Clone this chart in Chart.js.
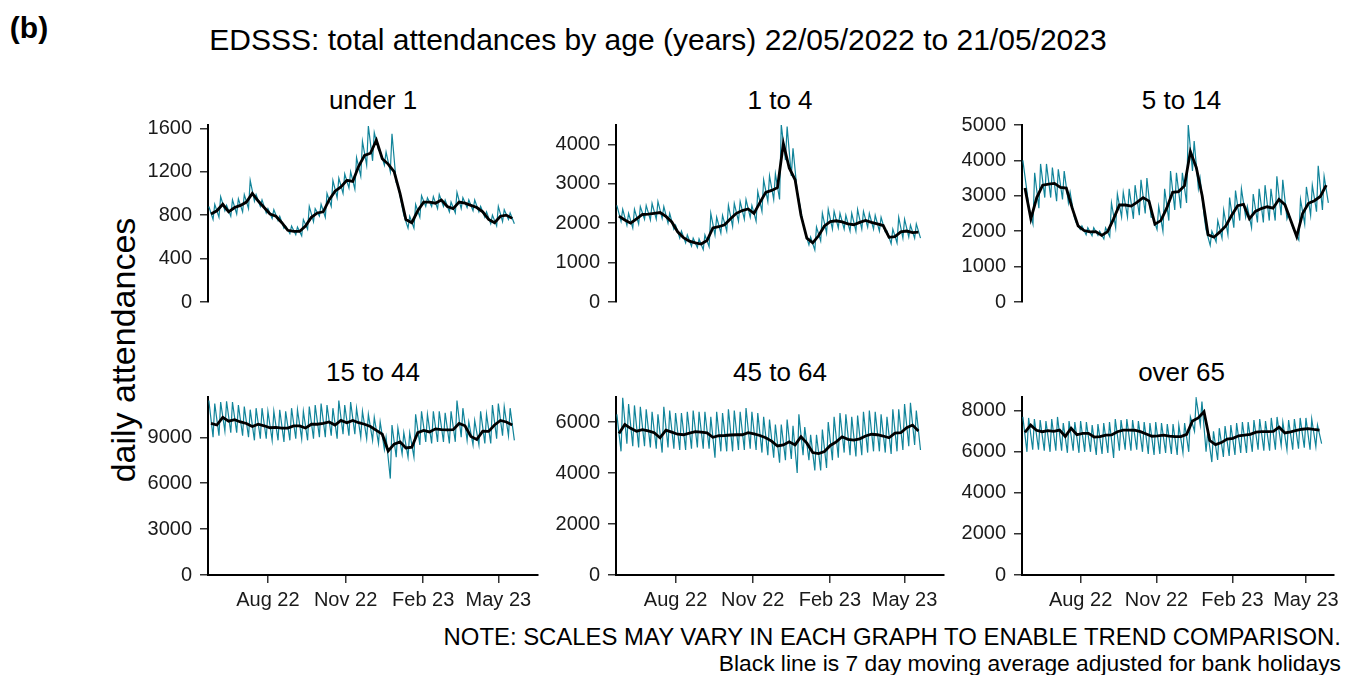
<!DOCTYPE html>
<html>
<head>
<meta charset="utf-8">
<title>EDSSS attendances by age</title>
<script src="https://cdn.jsdelivr.net/npm/chart.js@4.4.1/dist/chart.umd.min.js"></script>
<style>
  body { margin: 0; background: #fff; width: 1346px; height: 675px; position: relative; overflow: hidden;
         font-family: "Liberation Sans", Arial, sans-serif; color: #000; }
  .lbl { position: absolute; white-space: nowrap; line-height: 1; transform: translate(-50%, -50%); }
  .note { position: absolute; right: 5px; white-space: nowrap; line-height: 1; transform: translateY(-50%); }
  canvas { position: absolute; }
</style>
</head>
<body>
<div class="lbl" style="left:29px;top:28px;font-size:30px;font-weight:bold">(b)</div>
<div class="lbl" style="left:658px;top:40px;font-size:30px">EDSSS: total attendances by age (years) 22/05/2022 to 21/05/2023</div>
<div class="lbl" style="left:123px;top:350px;font-size:34px;transform:translate(-50%,-50%) rotate(-90deg)">daily attendances</div>
<div class="note" style="top:637px;font-size:23.9px">NOTE: SCALES MAY VARY IN EACH GRAPH TO ENABLE TREND COMPARISON.</div>
<div class="note" style="top:663px;font-size:22.8px">Black line is 7 day moving average adjusted for bank holidays</div>

<script>
// panels and axes
const panelTitles = ['under 1', '1 to 4', '5 to 14', '15 to 44', '45 to 64', 'over 65'];
const xTickDays = [71, 163, 255, 344];          // days since 22/05/2022
const xTickLabels = ['Aug 22', 'Nov 22', 'Feb 23', 'May 23'];
const yTicks = [
  [0, 400, 800, 1200, 1600],
  [0, 1000, 2000, 3000, 4000],
  [0, 1000, 2000, 3000, 4000, 5000],
  [0, 3000, 6000, 9000],
  [0, 2000, 4000, 6000],
  [0, 2000, 4000, 6000, 8000]
];
const yMax = [1630, 4490, 5000, 11630, 6980, 8670];

// weekly readings: 7 day average (mid week), daily high (Monday) and low (Saturday)
const under1Avg = [810, 840, 900, 830, 870, 890, 920, 1000, 930, 870, 810, 790, 730, 660, 650, 650, 700, 780, 820, 830, 940, 1020, 1060, 1120, 1110, 1250, 1350, 1370, 1490, 1320, 1270, 1200, 1000, 760, 730, 840, 920, 920, 910, 940, 880, 860, 920, 910, 890, 870, 830, 760, 730, 790, 800, 770];
const under1Hi = [880, 900, 970, 890, 940, 950, 990, 1120, 990, 940, 860, 850, 790, 700, 700, 690, 760, 880, 860, 900, 1000, 1120, 1140, 1180, 1200, 1330, 1480, 1620, 1560, 1390, 1380, 1550, 1080, 800, 790, 900, 980, 960, 970, 990, 940, 920, 1010, 960, 940, 940, 880, 830, 800, 880, 850, 820];
const under1Lo = [760, 780, 840, 790, 810, 830, 860, 930, 880, 820, 770, 750, 680, 630, 620, 610, 670, 740, 790, 780, 880, 960, 1000, 1050, 1040, 1160, 1260, 1300, 1400, 1260, 1200, 1100, 880, 680, 680, 780, 880, 880, 860, 880, 830, 820, 860, 870, 840, 830, 780, 720, 700, 740, 760, 720];

const age1to4Avg = [2180, 2080, 2000, 2110, 2220, 2230, 2250, 2270, 2170, 2030, 1780, 1630, 1545, 1500, 1470, 1560, 1880, 1910, 1960, 2110, 2250, 2320, 2360, 2250, 2520, 2780, 2830, 2900, 4020, 3400, 3100, 2200, 1620, 1500, 1680, 1930, 2040, 2060, 2030, 1980, 1960, 2020, 2070, 2020, 1980, 1940, 1640, 1660, 1780, 1800, 1760, 1770];
const age1to4Hi = [2450, 2350, 2250, 2350, 2420, 2450, 2500, 2550, 2420, 2250, 1950, 1800, 1700, 1620, 1600, 1700, 2250, 2150, 2200, 2450, 2500, 2550, 2600, 2450, 2800, 3100, 3200, 3250, 4500, 4450, 3900, 2600, 1800, 1650, 1900, 2250, 2350, 2300, 2250, 2200, 2250, 2350, 2300, 2250, 2200, 2150, 1800, 1850, 2150, 2100, 1950, 1980];
const age1to4Lo = [2050, 1950, 1880, 1980, 2100, 2080, 2100, 2120, 2000, 1850, 1620, 1500, 1420, 1380, 1330, 1400, 1700, 1750, 1800, 1920, 2050, 2100, 2150, 2050, 2300, 2550, 2600, 2600, 3600, 3200, 2800, 2000, 1450, 1320, 1550, 1750, 1850, 1880, 1850, 1800, 1800, 1850, 1900, 1850, 1800, 1780, 1480, 1500, 1620, 1650, 1620, 1620];

const age5to14Avg = [3220, 2350, 2950, 3300, 3330, 3350, 3240, 3220, 2650, 2150, 2020, 1980, 1990, 1880, 1990, 2350, 2740, 2740, 2710, 2820, 2950, 2850, 2200, 2300, 2650, 3100, 3120, 3280, 4250, 3800, 3000, 1900, 1830, 1980, 2150, 2450, 2720, 2760, 2350, 2560, 2640, 2690, 2650, 2900, 2750, 2300, 1850, 2500, 2790, 2860, 2980, 3300];
const age5to14Hi = [4000, 2700, 3650, 3900, 3900, 3800, 3750, 3700, 3100, 2250, 2150, 2100, 2100, 2000, 2100, 2800, 3050, 3100, 3200, 3300, 3450, 3500, 2400, 2700, 3200, 3700, 3650, 3650, 5000, 4550, 3500, 2050, 2000, 2300, 2600, 2950, 3150, 3200, 2700, 3050, 3200, 3300, 3200, 3550, 3450, 2500, 2000, 2900, 3250, 3300, 3850, 3550];
const age5to14Lo = [3100, 2200, 2650, 2950, 2950, 2850, 2900, 2800, 2400, 2050, 1900, 1870, 1880, 1780, 1850, 2100, 2400, 2400, 2350, 2450, 2500, 2400, 2050, 2000, 2300, 2600, 2650, 2800, 3700, 3200, 2400, 1600, 1700, 1800, 1900, 2100, 2300, 2400, 2100, 2250, 2250, 2300, 2300, 2450, 2350, 2100, 1750, 2200, 2450, 2550, 2600, 2800];

const age15to44Avg = [9900, 9800, 10300, 10050, 10150, 10000, 9900, 9700, 9850, 9750, 9620, 9650, 9600, 9600, 9740, 9740, 9600, 9850, 9850, 9900, 10000, 9800, 10100, 9950, 10100, 9950, 9850, 9700, 9450, 9200, 8100, 8550, 8700, 8300, 8350, 9300, 9450, 9350, 9550, 9500, 9480, 9500, 9900, 9750, 9050, 8850, 9400, 9380, 9800, 10100, 10000, 9800];
const age15to44Hi = [11400, 11200, 11300, 11350, 11300, 11100, 11000, 10800, 10900, 10900, 10700, 10700, 10800, 10700, 10900, 10800, 10700, 11000, 11100, 11200, 11100, 10900, 11400, 11100, 11300, 10900, 10700, 10500, 10300, 10000, 9000, 9800, 9600, 9300, 9300, 10500, 10700, 10500, 10700, 10700, 10600, 10700, 11400, 10900, 10000, 10100, 10700, 10500, 11100, 11200, 11000, 10900];
const age15to44Lo = [9000, 9100, 9400, 9300, 9300, 9100, 9000, 8800, 8900, 8900, 8800, 8800, 8700, 8800, 8900, 8900, 8800, 8900, 9000, 9000, 9100, 8900, 9200, 9100, 9200, 9000, 8900, 8800, 8600, 8200, 6300, 7700, 7900, 7700, 7700, 8500, 8700, 8600, 8700, 8700, 8600, 8700, 9000, 8800, 8500, 8500, 8600, 8600, 8900, 9100, 9100, 8800];

const age45to64Avg = [5550, 5900, 5750, 5640, 5700, 5650, 5580, 5380, 5680, 5600, 5520, 5500, 5560, 5620, 5600, 5570, 5400, 5460, 5470, 5490, 5500, 5500, 5580, 5530, 5470, 5380, 5250, 5060, 5100, 5220, 5100, 5420, 5170, 4800, 4760, 4840, 5080, 5220, 5420, 5320, 5290, 5340, 5450, 5520, 5500, 5450, 5380, 5560, 5580, 5780, 5880, 5650];
const age45to64Hi = [6300, 6950, 6700, 6650, 6600, 6500, 6400, 6300, 6600, 6450, 6350, 6350, 6400, 6450, 6400, 6400, 6200, 6400, 6350, 6500, 6450, 6400, 6550, 6400, 6350, 6200, 6100, 5900, 5900, 6100, 5850, 6300, 5800, 5500, 5500, 5700, 6000, 6200, 6350, 6300, 6200, 6250, 6400, 6450, 6400, 6300, 6200, 6500, 6500, 6700, 6750, 6450];
const age45to64Lo = [4850, 5150, 5050, 5000, 5050, 5000, 4950, 4800, 5000, 4950, 4900, 4900, 4950, 5000, 4950, 4950, 4600, 4850, 4850, 4850, 4900, 4900, 4950, 4900, 4800, 4700, 4600, 4400, 4500, 4550, 4000, 4700, 4500, 4100, 4100, 4200, 4500, 4600, 4800, 4700, 4650, 4700, 4800, 4850, 4850, 4800, 4750, 4850, 4900, 5050, 5100, 4900];

const over65Avg = [6950, 7300, 7050, 6980, 7030, 7000, 7060, 6750, 7150, 6830, 6900, 6900, 6720, 6740, 6810, 6820, 6980, 7060, 7060, 7050, 6980, 6870, 6760, 6780, 6810, 6760, 6740, 6740, 6850, 7500, 7650, 7950, 6550, 6350, 6450, 6620, 6660, 6780, 6810, 6850, 6960, 6980, 6980, 6990, 7200, 6920, 6970, 7040, 7100, 7130, 7090, 7060];
const over65Hi = [7700, 7650, 7600, 7550, 7500, 7600, 7700, 7400, 7500, 7450, 7500, 7450, 7300, 7350, 7400, 7450, 7600, 7550, 7600, 7550, 7500, 7450, 7400, 7450, 7400, 7350, 7350, 7300, 7400, 7700, 8600, 8450, 6950, 7000, 7150, 7250, 7300, 7400, 7450, 7450, 7550, 7600, 7500, 7650, 7700, 7450, 7550, 7600, 7650, 7650, 7600, 7300];
const over65Lo = [6000, 6100, 6100, 6050, 6000, 6050, 6050, 5950, 6050, 5950, 6000, 6000, 5850, 5900, 5950, 5700, 6050, 6100, 6050, 6100, 6000, 5900, 5850, 5900, 5950, 5900, 5850, 5950, 6000, 7000, 7300, 6000, 5500, 5600, 5750, 5800, 5850, 5950, 5950, 6000, 6100, 6050, 6050, 6100, 6300, 6100, 6100, 6150, 6200, 6100, 6250, 6400];

const panels = [
  [under1Avg, under1Hi, under1Lo],
  [age1to4Avg, age1to4Hi, age1to4Lo],
  [age5to14Avg, age5to14Hi, age5to14Lo],
  [age15to44Avg, age15to44Hi, age15to44Lo],
  [age45to64Avg, age45to64Hi, age45to64Lo],
  [over65Avg, over65Hi, over65Lo]
];

// layout of the plotting areas (page pixels)
const colLeft = [208, 616, 1022];
const colRight = [538, 944, 1341];
const colDays = [391, 391, 378];
const rowTop = [125, 397];
const rowBottom = [302, 575];

const teal = '#11849a';
const fontFamily = "'Liberation Sans', Arial, sans-serif";

function avgPoints(vals) {
  return vals.map((v, i) => ({ x: 7 * i + 3.5, y: v }));
}
function dailyPoints(hi, lo) {
  const pts = [];
  hi.forEach((v, i) => {
    pts.push({ x: 7 * i + 1, y: v });
    pts.push({ x: 7 * i + 6, y: lo[i] });
  });
  return pts;
}

panels.forEach((p, k) => {
  const col = k % 3, row = Math.floor(k / 3);
  const L = colLeft[col], R = colRight[col], T = rowTop[row], B = rowBottom[row];
  const showX = row === 1;
  const axW = 80, padT = 24, padR = 3, xH = 42, padB = 24;
  const w = R - L + axW + padR;
  const h = B - T + padT + (showX ? xH : padB);

  const title = document.createElement('div');
  title.className = 'lbl';
  title.style.left = ((L + R) / 2) + 'px';
  title.style.top = (T - 25) + 'px';
  title.style.fontSize = '26px';
  title.textContent = panelTitles[k];
  document.body.appendChild(title);

  const cv = document.createElement('canvas');
  cv.width = w; cv.height = h;
  cv.style.left = (L - axW) + 'px';
  cv.style.top = (T - padT) + 'px';
  cv.style.width = w + 'px';
  cv.style.height = h + 'px';
  document.body.appendChild(cv);

  const xScale = {
    type: 'linear',
    display: showX,
    min: 0,
    max: colDays[col],
    afterBuildTicks: s => { s.ticks = xTickDays.map(v => ({ value: v })); },
    ticks: {
      autoSkip: false, maxRotation: 0, padding: 5,
      color: '#1a1a1a', font: { family: fontFamily, size: 20 },
      callback: v => xTickLabels[xTickDays.indexOf(v)]
    },
    grid: { drawOnChartArea: false, drawTicks: true, tickLength: 8, color: '#333', lineWidth: 1.5 },
    border: { display: true, color: '#000', width: 2 }
  };
  if (showX) xScale.afterFit = s => { s.height = xH; };

  new Chart(cv, {
    type: 'line',
    data: {
      datasets: [
        { data: avgPoints(p[0]), borderColor: '#000', borderWidth: 2.8, pointRadius: 0, tension: 0, order: 0 },
        { data: dailyPoints(p[1], p[2]), borderColor: teal, borderWidth: 1.2, pointRadius: 0, tension: 0, order: 1 }
      ]
    },
    options: {
      responsive: false,
      animation: false,
      devicePixelRatio: 1,
      events: [],
      layout: { padding: { top: padT, right: padR, bottom: showX ? 0 : padB, left: 0 } },
      plugins: { legend: { display: false }, tooltip: { enabled: false } },
      scales: {
        x: xScale,
        y: {
          min: 0,
          max: yMax[k],
          afterBuildTicks: s => { s.ticks = yTicks[k].map(v => ({ value: v })); },
          afterFit: s => { s.width = axW; },
          ticks: {
            padding: 8, color: '#1a1a1a', font: { family: fontFamily, size: 20 },
            callback: v => String(v)
          },
          grid: { drawOnChartArea: false, drawTicks: true, tickLength: 8, color: '#333', lineWidth: 1.5 },
          border: { display: true, color: '#000', width: 2 }
        }
      }
    }
  });
});
</script>
</body>
</html>
